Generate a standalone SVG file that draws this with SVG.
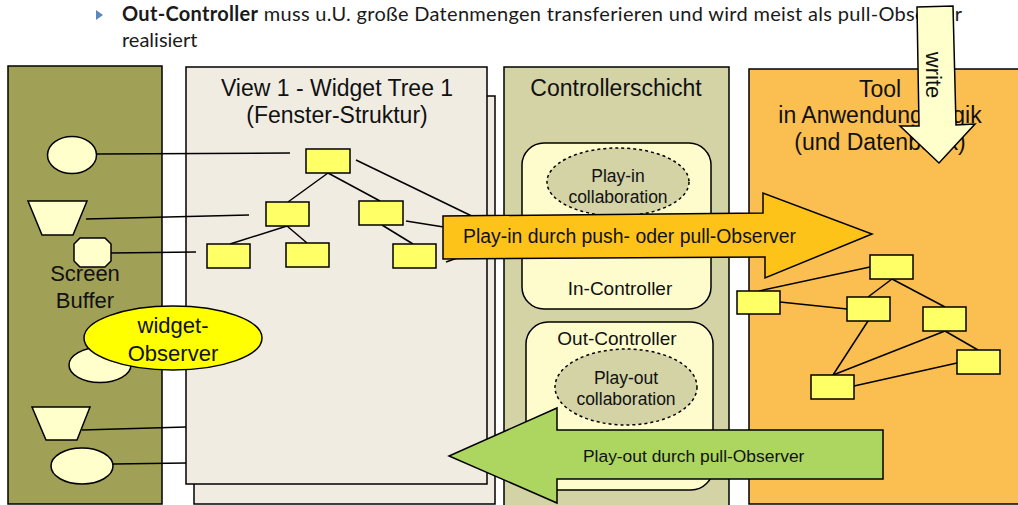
<svg xmlns="http://www.w3.org/2000/svg" width="1018" height="505" viewBox="0 0 1018 505">
<style>
  .panel { stroke: #000; stroke-width: 1.5; }
  .box { fill: #ffff66; stroke: #000; stroke-width: 1.5; }
  .shape { fill: #ffffcc; stroke: #000; stroke-width: 1.5; }
  .ln { stroke: #000; stroke-width: 1.5; fill: none; }
  .t { font-family: "Liberation Sans", Arial, sans-serif; fill: #111; text-anchor: middle; }
  .t23 { font-size: 23px; }
  .t22 { font-size: 22px; }
  .t19 { font-size: 19px; }
  .t17 { font-size: 17.5px; }
  .dash { fill: #d3d3a6; stroke: #000; stroke-width: 1.5; stroke-dasharray: 3 3; }
  .ctl { fill: #fefccd; stroke: #000; stroke-width: 1.5; }
  .hd { font-family: Lato, "Open Sans", sans-serif; font-size: 20px; fill: #1a1a1a; }
</style>

<!-- header -->
<g id="header">
  <polygon points="96,10 103,15 96,20" fill="#5b87c0"/>
  <text class="hd" x="122" y="21" textLength="840" lengthAdjust="spacing"><tspan font-weight="bold">Out-Controller</tspan> muss u.U. große Datenmengen transferieren und wird meist als pull-Observer</text>
  <text class="hd" x="122" y="47">realisiert</text>
</g>

<!-- Screen Buffer -->
<g id="screen-buffer">
  <rect class="panel" x="8" y="66" width="154" height="438" fill="#a0a056"/>
  <text class="t t22" x="85" y="281">Screen</text>
  <text class="t t22" x="85" y="308">Buffer</text>
</g>

<!-- View panels -->
<g id="view">
  <rect class="panel" x="194" y="96" width="301" height="408" fill="#f0ece2"/>
  <rect class="panel" x="186" y="67" width="301" height="417" fill="#f0ece2"/>
  <text class="t t23" x="337" y="96">View 1 - Widget Tree 1</text>
  <text class="t t23" x="337" y="123">(Fenster-Struktur)</text>
</g>

<!-- Controllerschicht -->
<g id="controllerschicht">
  <rect class="panel" x="504" y="67" width="225" height="440" fill="#d3d3a6"/>
  <text class="t t23" x="616" y="96">Controllerschicht</text>
</g>
<g id="in-controller">
  <rect class="ctl" x="522" y="143" width="189" height="166" rx="22"/>
  <text class="t t19" x="620" y="295">In-Controller</text>
</g>
<g id="play-in-collaboration">
  <ellipse class="dash" cx="618" cy="182" rx="71" ry="34"/>
  <text class="t t17" x="618" y="182">Play-in</text>
  <text class="t t17" x="618" y="203">collaboration</text>
</g>
<g id="out-controller">
  <rect class="ctl" x="526" y="322" width="187" height="168" rx="22"/>
  <text class="t t19" x="617" y="345">Out-Controller</text>
</g>
<g id="play-out-collaboration">
  <ellipse class="dash" cx="626" cy="387" rx="71" ry="38"/>
  <text class="t t17" x="626" y="384">Play-out</text>
  <text class="t t17" x="626" y="405">collaboration</text>
</g>

<!-- Tool -->
<g id="tool">
  <rect class="panel" x="749" y="69" width="275" height="435" fill="#fabf50"/>
  <text class="t t23" x="880" y="97">Tool</text>
  <text class="t t23" x="880" y="123">in Anwendungslogik</text>
  <text class="t t23" x="880" y="150">(und Datenbank)</text>
</g>

<!-- connectors -->
<g id="connectors">
  <line class="ln" x1="96" y1="154" x2="290" y2="153"/>
  <line class="ln" x1="86" y1="219" x2="249" y2="215"/>
  <line class="ln" x1="111" y1="253" x2="196" y2="252"/>
  <line class="ln" x1="82" y1="430" x2="186" y2="427"/>
  <line class="ln" x1="113" y1="464" x2="186" y2="463"/>
  <!-- view tree -->
  <line class="ln" x1="328" y1="173" x2="288" y2="202"/>
  <line class="ln" x1="328" y1="173" x2="380" y2="201"/>
  <line class="ln" x1="287" y1="226" x2="230" y2="244"/>
  <line class="ln" x1="287" y1="226" x2="307" y2="243"/>
  <line class="ln" x1="382" y1="225" x2="413" y2="244"/>
  <line class="ln" x1="356" y1="160" x2="480" y2="220"/>
  <line class="ln" x1="406" y1="221" x2="450" y2="228"/>
  <line class="ln" x1="446" y1="262" x2="460" y2="257"/>
  <!-- tool tree -->
  <line class="ln" x1="870" y1="267" x2="759" y2="291"/>
  <line class="ln" x1="780" y1="302" x2="847" y2="309"/>
  <line class="ln" x1="892" y1="279" x2="868" y2="297"/>
  <line class="ln" x1="892" y1="279" x2="945" y2="307"/>
  <line class="ln" x1="868" y1="321" x2="833" y2="375"/>
  <line class="ln" x1="945" y1="331" x2="833" y2="375"/>
  <line class="ln" x1="945" y1="331" x2="978" y2="350"/>
  <line class="ln" x1="957" y1="363" x2="854" y2="386"/>
</g>

<!-- view tree nodes -->
<g id="v-root"><rect class="box" x="306" y="149" width="44" height="24"/></g>
<g id="v-l1a"><rect class="box" x="266" y="202" width="43" height="24"/></g>
<g id="v-l1b"><rect class="box" x="359" y="201" width="44" height="24"/></g>
<g id="v-l2a"><rect class="box" x="207" y="244" width="43" height="24"/></g>
<g id="v-l2b"><rect class="box" x="286" y="243" width="43" height="24"/></g>
<g id="v-l2c"><rect class="box" x="393" y="244" width="43" height="24"/></g>

<!-- tool tree nodes -->
<g id="t-root"><rect class="box" x="870" y="255" width="43" height="24"/></g>
<g id="t-left"><rect class="box" x="737" y="291" width="43" height="23"/></g>
<g id="t-mid"><rect class="box" x="847" y="297" width="43" height="24"/></g>
<g id="t-right1"><rect class="box" x="923" y="307" width="43" height="24"/></g>
<g id="t-right2"><rect class="box" x="957" y="350" width="43" height="24"/></g>
<g id="t-bottom"><rect class="box" x="811" y="375" width="43" height="24"/></g>

<!-- screen buffer shapes -->
<g id="sb-ellipse1"><ellipse class="shape" cx="72" cy="155" rx="24.5" ry="18.5"/></g>
<g id="sb-trap1"><polygon class="shape" points="28,201 87,201 73,235 42,235"/></g>
<g id="sb-octagon"><polygon class="shape" points="80,238 105,238 111,244 111,261 105,267 80,267 74,261 74,244"/></g>
<g id="sb-ellipse2"><ellipse class="shape" cx="100" cy="365" rx="31" ry="17.5"/></g>
<g id="sb-trap2"><polygon class="shape" points="32,407 90,407 77,440 46,440"/></g>
<g id="sb-ellipse3"><ellipse class="shape" cx="82" cy="466" rx="31" ry="18"/></g>

<g id="widget-observer">
  <ellipse cx="173" cy="338" rx="89" ry="32" fill="#ffff00" stroke="#000" stroke-width="1.5"/>
  <text class="t t22" x="173" y="333">widget-</text>
  <text class="t t22" x="173" y="361">Observer</text>
</g>

<!-- Play-in arrow -->
<g id="play-in-arrow">
  <polygon points="443,216 763,213 763,193 872,234 765,278 765,257 443,259" fill="#fec318" stroke="#000" stroke-width="1.5"/>
  <text x="463" y="243" font-family="'Liberation Sans', Arial, sans-serif" font-size="19.4" fill="#111">Play-in durch push- oder pull-Observer</text>
</g>

<!-- Play-out arrow -->
<g id="play-out-arrow">
  <polygon points="883,430 557,430 557,408 449,456 557,503 557,479 883,479" fill="#acd660" stroke="#000" stroke-width="1.5"/>
  <text x="583" y="462" font-family="'Liberation Sans', Arial, sans-serif" font-size="17.4" fill="#111">Play-out durch pull-Observer</text>
</g>

<!-- write arrow -->
<g id="write-arrow">
  <polygon points="917,7 953,6 956,125 975,124 939,163 900,126 919,126" fill="#ffffcc" stroke="#000" stroke-width="1.5"/>
  <text class="t t22" transform="translate(926,75) rotate(90)" x="0" y="0">write</text>
</g>
</svg>
